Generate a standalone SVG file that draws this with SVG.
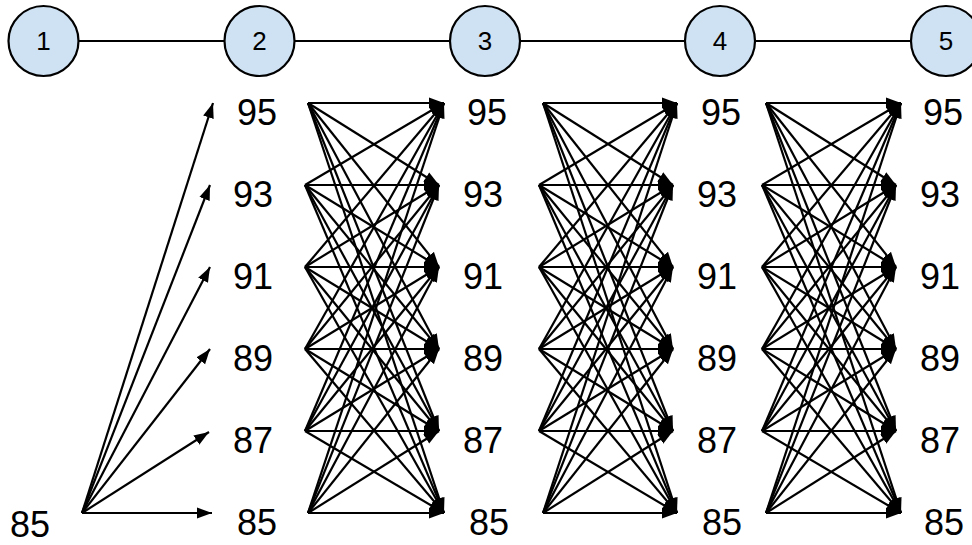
<svg xmlns="http://www.w3.org/2000/svg" width="972" height="545" viewBox="0 0 972 545">
<style>
.lbl{font-family:"Liberation Sans",Arial,sans-serif;font-size:36px;fill:#000}
.num{font-family:"Liberation Sans",Arial,sans-serif;font-size:26px;fill:#000;text-anchor:middle}
.st circle{fill:#cfe2f3;stroke:#000;stroke-width:2.2}
.chain line{stroke:#000;stroke-width:2.2}
.arr line{stroke:#000;stroke-width:2.2;marker-end:url(#ah)}
</style>
<defs>
<marker id="ah" markerUnits="userSpaceOnUse" markerWidth="16" markerHeight="12" viewBox="0 0 16 12" refX="15" refY="6" orient="auto">
<path d="M0,0.5 L15,6 L0,11.5 z" fill="#000"/>
</marker>
</defs>
<g id="chain" class="chain">
<line x1="78" y1="41" x2="225" y2="41"/>
<line x1="294" y1="41" x2="450" y2="41"/>
<line x1="520" y1="41" x2="685" y2="41"/>
<line x1="755" y1="41" x2="911" y2="41"/>
</g>
<g id="stage1" class="st"><circle cx="43.5" cy="41" r="35"/><text class="num" x="43.5" y="50">1</text></g>
<g id="stage2" class="st"><circle cx="259.5" cy="41" r="35"/><text class="num" x="259.5" y="50">2</text></g>
<g id="stage3" class="st"><circle cx="485" cy="41" r="35"/><text class="num" x="485" y="50">3</text></g>
<g id="stage4" class="st"><circle cx="720" cy="41" r="35"/><text class="num" x="720" y="50">4</text></g>
<g id="stage5" class="st"><circle cx="946" cy="41" r="35"/><text class="num" x="946" y="50">5</text></g>
<g id="col1"><text class="lbl" x="10" y="537">85</text></g>
<g id="col2">
<text class="lbl" x="237" y="125">95</text><text class="lbl" x="233" y="207">93</text><text class="lbl" x="233" y="289">91</text><text class="lbl" x="233" y="371">89</text><text class="lbl" x="233" y="453">87</text><text class="lbl" x="237" y="535">85</text>
</g>
<g id="col3">
<text class="lbl" x="467" y="125">95</text><text class="lbl" x="463" y="207">93</text><text class="lbl" x="463" y="289">91</text><text class="lbl" x="463" y="371">89</text><text class="lbl" x="463" y="453">87</text><text class="lbl" x="469" y="535">85</text>
</g>
<g id="col4">
<text class="lbl" x="701" y="125">95</text><text class="lbl" x="697" y="207">93</text><text class="lbl" x="697" y="289">91</text><text class="lbl" x="697" y="371">89</text><text class="lbl" x="697" y="453">87</text><text class="lbl" x="702" y="535">85</text>
</g>
<g id="col5">
<text class="lbl" x="923" y="125">95</text><text class="lbl" x="920" y="207">93</text><text class="lbl" x="920" y="289">91</text><text class="lbl" x="920" y="371">89</text><text class="lbl" x="920" y="453">87</text><text class="lbl" x="924" y="535">85</text>
</g>
<g id="connectors" class="arr">
<line x1="82" y1="513" x2="213" y2="103"/>
<line x1="82" y1="513" x2="210" y2="185"/>
<line x1="82" y1="513" x2="210" y2="267"/>
<line x1="82" y1="513" x2="210" y2="349"/>
<line x1="82" y1="513" x2="209" y2="432"/>
<line x1="82" y1="513" x2="212" y2="513"/>

<line x1="308" y1="103" x2="444" y2="103"/><line x1="308" y1="103" x2="439" y2="185"/><line x1="308" y1="103" x2="439" y2="267"/><line x1="308" y1="103" x2="439" y2="349"/><line x1="308" y1="103" x2="439" y2="431"/><line x1="308" y1="103" x2="444" y2="513"/>
<line x1="305" y1="185" x2="444" y2="103"/><line x1="305" y1="185" x2="439" y2="185"/><line x1="305" y1="185" x2="439" y2="267"/><line x1="305" y1="185" x2="439" y2="349"/><line x1="305" y1="185" x2="439" y2="431"/><line x1="305" y1="185" x2="444" y2="513"/>
<line x1="305" y1="267" x2="444" y2="103"/><line x1="305" y1="267" x2="439" y2="185"/><line x1="305" y1="267" x2="439" y2="267"/><line x1="305" y1="267" x2="439" y2="349"/><line x1="305" y1="267" x2="439" y2="431"/><line x1="305" y1="267" x2="444" y2="513"/>
<line x1="305" y1="349" x2="444" y2="103"/><line x1="305" y1="349" x2="439" y2="185"/><line x1="305" y1="349" x2="439" y2="267"/><line x1="305" y1="349" x2="439" y2="349"/><line x1="305" y1="349" x2="439" y2="431"/><line x1="305" y1="349" x2="444" y2="513"/>
<line x1="305" y1="431" x2="444" y2="103"/><line x1="305" y1="431" x2="439" y2="185"/><line x1="305" y1="431" x2="439" y2="267"/><line x1="305" y1="431" x2="439" y2="349"/><line x1="305" y1="431" x2="439" y2="431"/><line x1="305" y1="431" x2="444" y2="513"/>
<line x1="308" y1="513" x2="444" y2="103"/><line x1="308" y1="513" x2="439" y2="185"/><line x1="308" y1="513" x2="439" y2="267"/><line x1="308" y1="513" x2="439" y2="349"/><line x1="308" y1="513" x2="439" y2="431"/><line x1="308" y1="513" x2="444" y2="513"/>

<line x1="543" y1="103" x2="677" y2="103"/><line x1="543" y1="103" x2="673" y2="185"/><line x1="543" y1="103" x2="673" y2="267"/><line x1="543" y1="103" x2="673" y2="349"/><line x1="543" y1="103" x2="673" y2="431"/><line x1="543" y1="103" x2="677" y2="513"/>
<line x1="539" y1="185" x2="677" y2="103"/><line x1="539" y1="185" x2="673" y2="185"/><line x1="539" y1="185" x2="673" y2="267"/><line x1="539" y1="185" x2="673" y2="349"/><line x1="539" y1="185" x2="673" y2="431"/><line x1="539" y1="185" x2="677" y2="513"/>
<line x1="539" y1="267" x2="677" y2="103"/><line x1="539" y1="267" x2="673" y2="185"/><line x1="539" y1="267" x2="673" y2="267"/><line x1="539" y1="267" x2="673" y2="349"/><line x1="539" y1="267" x2="673" y2="431"/><line x1="539" y1="267" x2="677" y2="513"/>
<line x1="539" y1="349" x2="677" y2="103"/><line x1="539" y1="349" x2="673" y2="185"/><line x1="539" y1="349" x2="673" y2="267"/><line x1="539" y1="349" x2="673" y2="349"/><line x1="539" y1="349" x2="673" y2="431"/><line x1="539" y1="349" x2="677" y2="513"/>
<line x1="539" y1="431" x2="677" y2="103"/><line x1="539" y1="431" x2="673" y2="185"/><line x1="539" y1="431" x2="673" y2="267"/><line x1="539" y1="431" x2="673" y2="349"/><line x1="539" y1="431" x2="673" y2="431"/><line x1="539" y1="431" x2="677" y2="513"/>
<line x1="543" y1="513" x2="677" y2="103"/><line x1="543" y1="513" x2="673" y2="185"/><line x1="543" y1="513" x2="673" y2="267"/><line x1="543" y1="513" x2="673" y2="349"/><line x1="543" y1="513" x2="673" y2="431"/><line x1="543" y1="513" x2="677" y2="513"/>

<line x1="766" y1="103" x2="901" y2="103"/><line x1="766" y1="103" x2="896" y2="185"/><line x1="766" y1="103" x2="896" y2="267"/><line x1="766" y1="103" x2="896" y2="349"/><line x1="766" y1="103" x2="896" y2="431"/><line x1="766" y1="103" x2="901" y2="513"/>
<line x1="762" y1="185" x2="901" y2="103"/><line x1="762" y1="185" x2="896" y2="185"/><line x1="762" y1="185" x2="896" y2="267"/><line x1="762" y1="185" x2="896" y2="349"/><line x1="762" y1="185" x2="896" y2="431"/><line x1="762" y1="185" x2="901" y2="513"/>
<line x1="762" y1="267" x2="901" y2="103"/><line x1="762" y1="267" x2="896" y2="185"/><line x1="762" y1="267" x2="896" y2="267"/><line x1="762" y1="267" x2="896" y2="349"/><line x1="762" y1="267" x2="896" y2="431"/><line x1="762" y1="267" x2="901" y2="513"/>
<line x1="762" y1="349" x2="901" y2="103"/><line x1="762" y1="349" x2="896" y2="185"/><line x1="762" y1="349" x2="896" y2="267"/><line x1="762" y1="349" x2="896" y2="349"/><line x1="762" y1="349" x2="896" y2="431"/><line x1="762" y1="349" x2="901" y2="513"/>
<line x1="762" y1="431" x2="901" y2="103"/><line x1="762" y1="431" x2="896" y2="185"/><line x1="762" y1="431" x2="896" y2="267"/><line x1="762" y1="431" x2="896" y2="349"/><line x1="762" y1="431" x2="896" y2="431"/><line x1="762" y1="431" x2="901" y2="513"/>
<line x1="766" y1="513" x2="901" y2="103"/><line x1="766" y1="513" x2="896" y2="185"/><line x1="766" y1="513" x2="896" y2="267"/><line x1="766" y1="513" x2="896" y2="349"/><line x1="766" y1="513" x2="896" y2="431"/><line x1="766" y1="513" x2="901" y2="513"/>
</g>
</svg>
